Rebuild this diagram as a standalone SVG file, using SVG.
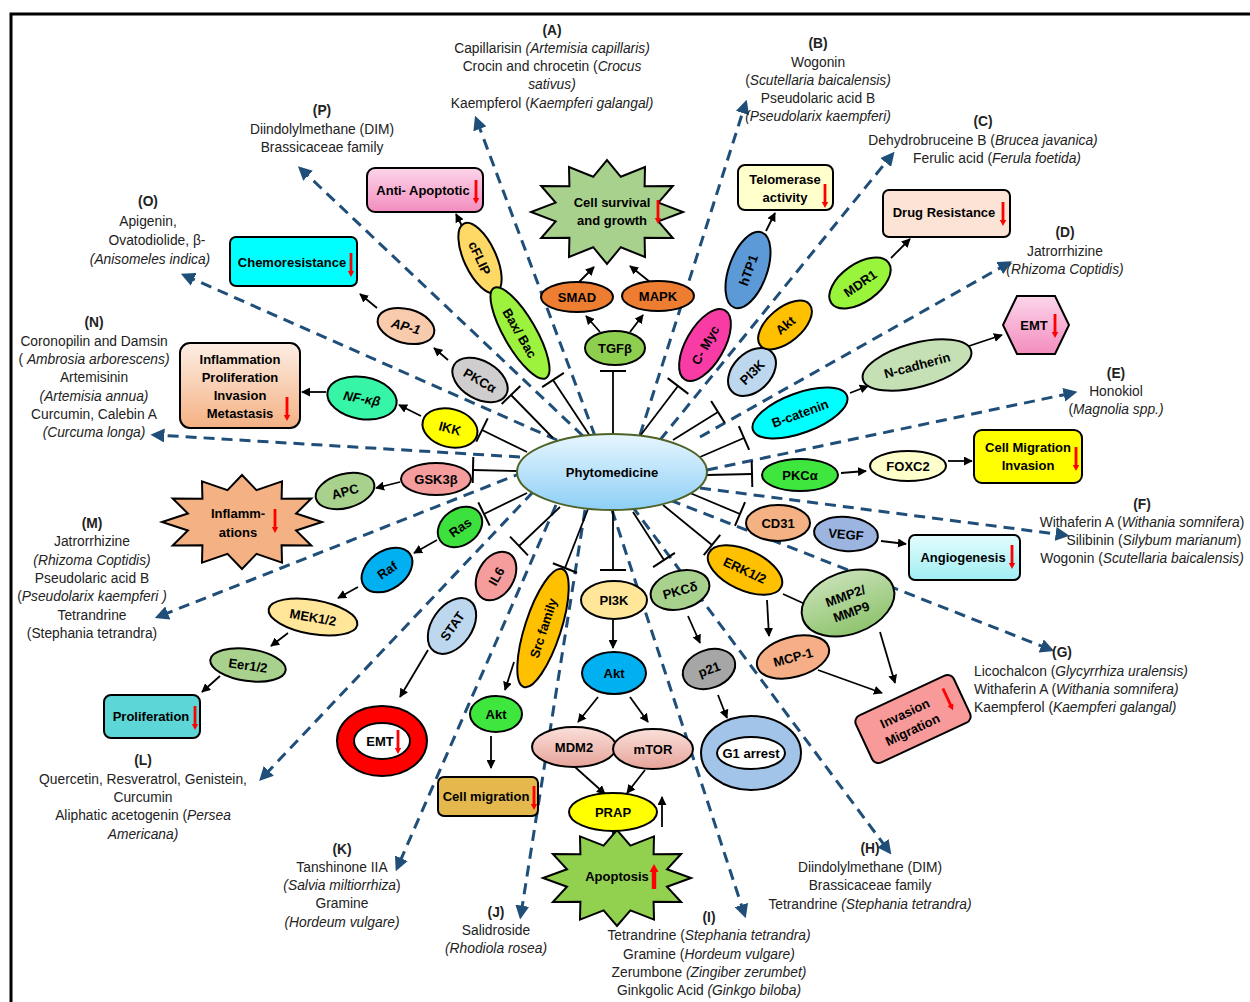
<svg xmlns="http://www.w3.org/2000/svg" width="1250" height="1002" viewBox="0 0 1250 1002">
<style>
text{font-family:"Liberation Sans",Arial,sans-serif;}
.lbl{font-size:13.8px;fill:#222;text-anchor:middle;}
.i{font-style:italic;}
.b{font-weight:bold;}
.n{font-size:13px;font-weight:bold;fill:#000;text-anchor:middle;}
.nd{stroke:#000;stroke-width:2;}
.ar{stroke:#000;stroke-width:1.8;fill:none;marker-end:url(#ah);}
.tb{stroke:#000;stroke-width:1.8;fill:none;marker-end:url(#tb);}
.ln{stroke:#000;stroke-width:1.8;fill:none;}
.ds{stroke:#1f4e79;stroke-width:3;stroke-dasharray:11,7;fill:none;marker-end:url(#dh);}
</style>
<defs>
<marker id="ah" viewBox="0 0 10 10" refX="9" refY="5" markerWidth="9" markerHeight="9" markerUnits="userSpaceOnUse" orient="auto"><path d="M0,0 L10,5 L0,10 Z" fill="#000"/></marker>
<marker id="tb" viewBox="0 0 4 28" refX="2" refY="14" markerWidth="4" markerHeight="28" markerUnits="userSpaceOnUse" orient="auto"><path d="M2,1 V27" stroke="#000" stroke-width="2"/></marker>
<marker id="dh" viewBox="0 0 10 10" refX="6" refY="5" markerWidth="14" markerHeight="14" markerUnits="userSpaceOnUse" orient="auto"><path d="M0,0 L10,5 L0,10 Z" fill="#1f4e79"/></marker>
<g id="rdn"><rect x="-1.4" y="0" width="2.8" height="20" fill="#ff0000"/><path d="M-3.2,18 L3.2,18 L0,24 Z" fill="#ff0000"/></g>
<linearGradient id="gPink" x1="0" y1="0" x2="0" y2="1"><stop offset="0" stop-color="#fcd5ea"/><stop offset="1" stop-color="#f38dbf"/></linearGradient>
<linearGradient id="gPeach" x1="0" y1="0" x2="0" y2="1"><stop offset="0" stop-color="#fdeee4"/><stop offset="1" stop-color="#f4b183"/></linearGradient>
<linearGradient id="gPhyto" x1="0" y1="0" x2="0" y2="1"><stop offset="0" stop-color="#e8f6fe"/><stop offset="1" stop-color="#8dcff6"/></linearGradient>
<linearGradient id="gAngio" x1="0" y1="0" x2="0" y2="1"><stop offset="0" stop-color="#e4fdfd"/><stop offset="1" stop-color="#9feef3"/></linearGradient>
<linearGradient id="gMdm" x1="0" y1="0" x2="0" y2="1"><stop offset="0" stop-color="#fae0da"/><stop offset="1" stop-color="#e6a49a"/></linearGradient>
<linearGradient id="gMmp" x1="0" y1="0" x2="0" y2="1"><stop offset="0" stop-color="#c6e0b4"/><stop offset="1" stop-color="#8fc46e"/></linearGradient>
</defs>
<rect width="1250" height="1002" fill="#fff"/>
<path d="M11,1002 V14 H1250" fill="none" stroke="#000" stroke-width="3"/>

<g id="connectors">
<line class="ds" x1="595" y1="436" x2="477" y2="121"/>
<line class="ds" x1="640" y1="435" x2="745" y2="105"/>
<line class="ds" x1="660" y1="440" x2="891" y2="156"/>
<line class="ds" x1="700" y1="437" x2="1007" y2="264"/>
<line class="ds" x1="707" y1="470" x2="1072" y2="393"/>
<line class="ds" x1="700" y1="488" x2="1064" y2="535"/>
<line class="ds" x1="670" y1="500" x2="1049" y2="649"/>
<line class="ds" x1="632" y1="506" x2="888" y2="850"/>
<line class="ds" x1="612" y1="510" x2="744" y2="913"/>
<line class="ds" x1="585" y1="510" x2="521" y2="914"/>
<line class="ds" x1="556" y1="505" x2="398" y2="866"/>
<line class="ds" x1="533" y1="492" x2="263" y2="777"/>
<line class="ds" x1="524" y1="472" x2="160" y2="616"/>
<line class="ds" x1="520" y1="457" x2="156" y2="435"/>
<line class="ds" x1="557" y1="440" x2="186" y2="276"/>
<line class="ds" x1="583" y1="436" x2="302" y2="170"/>
<line class="tb" x1="590" y1="436" x2="553" y2="380"/>
<line class="tb" x1="553" y1="438" x2="511" y2="395"/>
<line class="tb" x1="527" y1="452" x2="482" y2="430"/>
<line class="tb" x1="517" y1="471" x2="473" y2="470"/>
<line class="tb" x1="527" y1="493" x2="484" y2="514"/>
<line class="tb" x1="560" y1="507" x2="519" y2="546"/>
<line class="tb" x1="588" y1="509" x2="565" y2="568"/>
<line class="tb" x1="613" y1="510" x2="613" y2="570"/>
<line class="tb" x1="633" y1="512" x2="664" y2="560"/>
<line class="tb" x1="663" y1="505" x2="712" y2="545"/>
<line class="tb" x1="690" y1="493" x2="740" y2="514"/>
<line class="tb" x1="707" y1="475" x2="752" y2="474"/>
<line class="tb" x1="700" y1="457" x2="744" y2="438"/>
<line class="tb" x1="673" y1="440" x2="718" y2="412"/>
<line class="tb" x1="640" y1="436" x2="678" y2="386"/>
<line class="tb" x1="613" y1="434" x2="613" y2="371"/>
<line class="ar" x1="465" y1="232" x2="456" y2="214"/>
<line class="ar" x1="377" y1="308" x2="360" y2="294"/>
<line class="ar" x1="448" y1="360" x2="434" y2="348"/>
<line class="ar" x1="421" y1="416" x2="399" y2="405"/>
<line class="ar" x1="326" y1="392" x2="302" y2="392"/>
<line class="ar" x1="400" y1="482" x2="376" y2="488"/>
<line class="ar" x1="437" y1="540" x2="414" y2="553"/>
<line class="ar" x1="358" y1="587" x2="338" y2="598"/>
<line class="ar" x1="288" y1="633" x2="271" y2="646"/>
<line class="ar" x1="220" y1="676" x2="202" y2="692"/>
<line class="ar" x1="428" y1="650" x2="400" y2="697"/>
<line class="ar" x1="514" y1="662" x2="505" y2="690"/>
<line class="ar" x1="491" y1="736" x2="491" y2="768"/>
<line class="ar" x1="613" y1="620" x2="613" y2="648"/>
<line class="ar" x1="598" y1="697" x2="578" y2="722"/>
<line class="ar" x1="630" y1="697" x2="648" y2="722"/>
<line class="ar" x1="575" y1="767" x2="605" y2="794"/>
<line class="ar" x1="645" y1="770" x2="627" y2="793"/>
<line class="ar" x1="613" y1="831" x2="613" y2="850"/>
<line class="ar" x1="662" y1="827" x2="662" y2="797"/>
<line class="ar" x1="688" y1="616" x2="700" y2="643"/>
<line class="ar" x1="718" y1="695" x2="727" y2="718"/>
<line class="ar" x1="767" y1="600" x2="769" y2="636"/>
<line class="ln" x1="783" y1="594" x2="805" y2="604"/>
<line class="ar" x1="818" y1="670" x2="882" y2="693"/>
<line class="ar" x1="880" y1="632" x2="895" y2="683"/>
<line class="ar" x1="881" y1="541" x2="906" y2="544"/>
<line class="ar" x1="841" y1="473" x2="866" y2="471"/>
<line class="ar" x1="948" y1="461" x2="972" y2="461"/>
<line class="ar" x1="850" y1="393" x2="868" y2="386"/>
<line class="ar" x1="969" y1="346" x2="1002" y2="335"/>
<line class="ar" x1="891" y1="258" x2="910" y2="239"/>
<line class="ar" x1="766" y1="231" x2="775" y2="213"/>
<line class="ar" x1="600" y1="332" x2="586" y2="316"/>
<line class="ar" x1="630" y1="332" x2="643" y2="315"/>
<line class="ar" x1="579" y1="282" x2="594" y2="267"/>
<line class="ar" x1="650" y1="282" x2="630" y2="266"/>
</g>

<g id="phytomedicine"><ellipse cx="612" cy="472" rx="95" ry="38" fill="url(#gPhyto)" stroke="#4f6228" stroke-width="2"/><text class="n" x="612" y="477">Phytomedicine</text></g>

<g id="anti-apoptotic"><rect x="367" y="168" width="116" height="44" rx="8" fill="url(#gPink)" class="nd"/><text class="n" x="423" y="195">Anti- Apoptotic</text><use href="#rdn" x="476" y="180"/></g>
<g id="chemoresistance"><rect x="230" y="237" width="127" height="49" rx="6" fill="#00ffff" class="nd"/><text class="n" x="292" y="267">Chemoresistance</text><use href="#rdn" x="351" y="253"/></g>
<g id="inflammation-box"><rect x="180" y="343" width="120" height="85" rx="10" fill="url(#gPeach)" class="nd"/><text class="n" x="240" y="364">Inflammation</text><text class="n" x="240" y="382">Proliferation</text><text class="n" x="240" y="400">Invasion</text><text class="n" x="240" y="418">Metastasis</text><use href="#rdn" x="287" y="397"/></g>
<g id="proliferation"><rect x="104" y="695" width="96" height="43" rx="7" fill="#5cd6d6" class="nd"/><text class="n" x="151" y="721">Proliferation</text><use href="#rdn" x="195" y="706"/></g>
<g id="cell-migration"><rect x="438" y="777" width="100" height="39" rx="6" fill="#e4b84c" class="nd"/><text class="n" x="486" y="801">Cell migration</text><use href="#rdn" x="534" y="786"/></g>
<g id="angiogenesis"><rect x="909" y="535" width="111" height="45" rx="6" fill="url(#gAngio)" class="nd"/><text class="n" x="963" y="562">Angiogenesis</text><use href="#rdn" x="1012" y="545"/></g>
<g id="cell-migration-invasion"><rect x="974" y="430" width="108" height="53" rx="8" fill="#ffff00" class="nd"/><text class="n" x="1028" y="452">Cell Migration</text><text class="n" x="1028" y="470">Invasion</text><use href="#rdn" x="1076" y="447"/></g>
<g id="drug-resistance"><rect x="883" y="190" width="127" height="47" rx="6" fill="#fbe4d6" class="nd"/><text class="n" x="944" y="217">Drug Resistance</text><use href="#rdn" x="1003" y="202"/></g>
<g id="telomerase"><rect x="738" y="165" width="95" height="45" rx="7" fill="#ffffcc" class="nd"/><text class="n" x="785" y="184">Telomerase</text><text class="n" x="785" y="202">activity</text><use href="#rdn" x="825" y="184"/></g>
<g id="invasion-migration" transform="rotate(-25 913 719)"><rect x="859" y="693" width="108" height="52" rx="7" fill="#f99a9a" class="nd"/><text class="n" x="908" y="715">Invasion</text><text class="n" x="908" y="733">Migration</text><use href="#rdn" x="953" y="704"/></g>
<g id="emt-hex"><path d="M1003,325 L1017,296 L1055,296 L1069,325 L1055,354 L1017,354 Z" fill="url(#gPink)" class="nd"/><text class="n" x="1034" y="330">EMT</text><use href="#rdn" x="1055" y="314"/></g>

<g id="cell-survival"><path d="M683,212 L658.4,221.4 L672.8,238 L644.6,237.7 L645,257 L620.8,247.2 L607,264 L593.2,247.2 L569,257 L569.4,237.7 L541.2,238 L555.6,221.4 L531,212 L555.6,202.6 L541.2,186 L569.4,186.3 L569,167 L593.2,176.8 L607,160 L620.8,176.8 L645,167 L644.6,186.3 L672.8,186 L658.4,202.6 Z" fill="#a9d18e" class="nd"/><text class="n" x="612" y="207">Cell survival</text><text class="n" x="612" y="225">and growth</text><use href="#rdn" x="658" y="200"/></g>
<g id="inflammations"><path d="M322,522 L296.1,530.5 L311.3,545.5 L281.6,545.3 L282,562.7 L256.5,553.8 L242,569 L227.5,553.8 L202,562.7 L202.4,545.3 L172.7,545.5 L187.9,530.5 L162,522 L187.9,513.5 L172.7,498.5 L202.4,498.7 L202,481.3 L227.5,490.2 L242,475 L256.5,490.2 L282,481.3 L281.6,498.7 L311.3,498.5 L296.1,513.5 Z" fill="#f4b183" class="nd"/><text class="n" x="238" y="518">Inflamm-</text><text class="n" x="238" y="537">ations</text><use href="#rdn" x="275" y="509"/></g>
<g id="apoptosis"><path d="M691,878 L667,886.7 L681.1,902 L653.6,901.8 L654,919.6 L630.4,910.4 L617,926 L603.6,910.4 L580,919.6 L580.4,901.8 L552.9,902 L567,886.7 L543,878 L567,869.3 L552.9,854 L580.4,854.2 L580,836.4 L603.6,845.6 L617,830 L630.4,845.6 L654,836.4 L653.6,854.2 L681.1,854 L667,869.3 Z" fill="#92d050" class="nd"/><text class="n" x="617" y="881">Apoptosis</text><g transform="translate(654 889) rotate(180)"><rect x="-2.2" y="0" width="4.4" height="20" fill="#ff0000"/><path d="M-4.5,17 L4.5,17 L0,25 Z" fill="#ff0000"/></g></g>

<g id="emt-ring"><ellipse cx="382" cy="741" rx="45" ry="35" fill="#ff0000" class="nd"/><ellipse cx="382" cy="741" rx="28" ry="18" fill="#fff" class="nd"/><text class="n" x="380" y="746">EMT</text><use href="#rdn" x="398" y="730"/></g>
<g id="g1-arrest"><ellipse cx="751" cy="753" rx="50" ry="37" fill="#a2c4e8" class="nd"/><ellipse cx="751" cy="753" rx="34" ry="16" fill="#fff" class="nd"/><text class="n" x="751" y="758">G1 arrest</text></g>

<g id="cflip" transform="rotate(65 480 258)"><ellipse cx="480" cy="258" rx="38" ry="16" fill="#ffd966" class="nd"/><text class="n" x="480" y="263">cFLIP</text></g>
<g id="bax-bac" transform="rotate(60 520 333)"><ellipse cx="520" cy="333" rx="52" ry="16" fill="#9cf23c" class="nd"/><text class="n" x="520" y="338">Bax/ Bac</text></g>
<g id="ap1" transform="rotate(15 406 326)"><ellipse cx="406" cy="326" rx="29" ry="17" fill="#f8cbad" class="nd"/><text class="n i" x="406" y="331">AP-1</text></g>
<g id="pkca-gray" transform="rotate(30 480 380)"><ellipse cx="480" cy="380" rx="30" ry="19" fill="#cfcdcd" class="nd"/><text class="n" x="480" y="385">PKCα</text></g>
<g id="ikk" transform="rotate(15 450 428)"><ellipse cx="450" cy="428" rx="28" ry="19" fill="#ffff00" class="nd"/><text class="n" x="450" y="433">IKK</text></g>
<g id="nfkb" transform="rotate(10 362 398)"><ellipse cx="362" cy="398" rx="35" ry="21" fill="#36f5a6" class="nd"/><text class="n i" x="362" y="403">NF-κβ</text></g>
<g id="gsk3b"><ellipse cx="436" cy="479" rx="35" ry="16" fill="#f59c9c" class="nd"/><text class="n" x="436" y="484">GSK3β</text></g>
<g id="apc" transform="rotate(-15 345 491)"><ellipse cx="345" cy="491" rx="30" ry="17" fill="#a9d18e" class="nd"/><text class="n" x="345" y="496">APC</text></g>
<g id="ras" transform="rotate(-35 460 527)"><ellipse cx="460" cy="527" rx="24" ry="18" fill="#3de13d" class="nd"/><text class="n" x="460" y="532">Ras</text></g>
<g id="raf" transform="rotate(-35 387 570)"><ellipse cx="387" cy="570" rx="28" ry="19" fill="#00b0f0" class="nd"/><text class="n" x="387" y="575">Raf</text></g>
<g id="mek" transform="rotate(10 313 617)"><ellipse cx="313" cy="617" rx="45" ry="17" fill="#ffe699" class="nd"/><text class="n" x="313" y="622">MEK1/2</text></g>
<g id="eer" transform="rotate(8 248 665)"><ellipse cx="248" cy="665" rx="38" ry="16" fill="#a9d18e" class="nd"/><text class="n" x="248" y="670">Eer1/2</text></g>
<g id="il6" transform="rotate(-60 496 576)"><ellipse cx="496" cy="576" rx="26" ry="18" fill="#f59c9c" class="nd"/><text class="n" x="496" y="581">IL6</text></g>
<g id="stat" transform="rotate(-55 452 626)"><ellipse cx="452" cy="626" rx="31" ry="20" fill="#bdd7ee" class="nd"/><text class="n" x="452" y="631">STAT</text></g>
<g id="src" transform="rotate(-72 543 628)"><ellipse cx="543" cy="628" rx="62" ry="18" fill="#ffc000" class="nd"/><text class="n" x="543" y="633">Src family</text></g>
<g id="akt-green"><ellipse cx="496" cy="714" rx="26" ry="18" fill="#3ee63e" class="nd"/><text class="n" x="496" y="719">Akt</text></g>
<g id="pi3k-bottom"><ellipse cx="614" cy="600" rx="33" ry="19" fill="#ffe699" class="nd"/><text class="n" x="614" y="605">PI3K</text></g>
<g id="akt-blue"><ellipse cx="614" cy="673" rx="32" ry="21" fill="#00b0f0" class="nd"/><text class="n" x="614" y="678">Akt</text></g>
<g id="mdm2"><ellipse cx="574" cy="747" rx="42" ry="20" fill="url(#gMdm)" class="nd"/><text class="n" x="574" y="752">MDM2</text></g>
<g id="mtor"><ellipse cx="653" cy="749" rx="40" ry="20" fill="url(#gMdm)" class="nd"/><text class="n" x="653" y="754">mTOR</text></g>
<g id="prap"><ellipse cx="613" cy="812" rx="44" ry="19" fill="#ffff00" class="nd"/><text class="n" x="613" y="817">PRAP</text></g>
<g id="pkcd" transform="rotate(-15 680 590)"><ellipse cx="680" cy="590" rx="30" ry="19" fill="#a9d18e" class="nd"/><text class="n" x="680" y="595">PKCδ</text></g>
<g id="p21" transform="rotate(-20 709 669)"><ellipse cx="709" cy="669" rx="27" ry="19" fill="#a6a6a6" class="nd"/><text class="n" x="709" y="674">p21</text></g>
<g id="erk" transform="rotate(25 745 570)"><ellipse cx="745" cy="570" rx="40" ry="20" fill="#ffc000" class="nd"/><text class="n" x="745" y="575">ERK1/2</text></g>
<g id="mmp" transform="rotate(-20 848 603)"><ellipse cx="848" cy="603" rx="48" ry="31" fill="url(#gMmp)" class="nd"/><text class="n" x="848" y="600">MMP2/</text><text class="n" x="848" y="617">MMP9</text></g>
<g id="mcp1" transform="rotate(-15 793 657)"><ellipse cx="793" cy="657" rx="37" ry="20" fill="#f5ae85" class="nd"/><text class="n" x="793" y="662">MCP-1</text></g>
<g id="cd31"><ellipse cx="778" cy="523" rx="32" ry="18" fill="#f4b183" class="nd"/><text class="n" x="778" y="528">CD31</text></g>
<g id="vegf" transform="rotate(5 846 534)"><ellipse cx="846" cy="534" rx="32" ry="17" fill="#9bb4e0" class="nd"/><text class="n" x="846" y="539">VEGF</text></g>
<g id="pkca-green"><ellipse cx="800" cy="475" rx="38" ry="16" fill="#3ee63e" class="nd"/><text class="n" x="800" y="480">PKCα</text></g>
<g id="foxc2"><ellipse cx="908" cy="466" rx="38" ry="15" fill="#ffffcc" class="nd"/><text class="n" x="908" y="471">FOXC2</text></g>
<g id="b-catenin" transform="rotate(-20 800 413)"><ellipse cx="800" cy="413" rx="50" ry="20" fill="#00ffff" class="nd"/><text class="n" x="800" y="418">B-catenin</text></g>
<g id="n-cadherin" transform="rotate(-15 917 365)"><ellipse cx="917" cy="365" rx="56" ry="22" fill="#c5e0b4" class="nd"/><text class="n" x="917" y="370">N-cadherin</text></g>
<g id="pi3k-top" transform="rotate(-45 752 372)"><ellipse cx="752" cy="372" rx="28" ry="19" fill="#bdd7ee" class="nd"/><text class="n" x="752" y="377">PI3K</text></g>
<g id="akt-orange" transform="rotate(-40 785 325)"><ellipse cx="785" cy="325" rx="32" ry="17" fill="#ffc000" class="nd"/><text class="n" x="785" y="330">Akt</text></g>
<g id="mdr1" transform="rotate(-35 860 283)"><ellipse cx="860" cy="283" rx="35" ry="19" fill="#99f53c" class="nd"/><text class="n" x="860" y="288">MDR1</text></g>
<g id="cmyc" transform="rotate(-60 705 345)"><ellipse cx="705" cy="345" rx="40" ry="19" fill="#f93ca5" class="nd"/><text class="n" x="705" y="350">C- Myc</text></g>
<g id="htp1" transform="rotate(-70 748 270)"><ellipse cx="748" cy="270" rx="40" ry="19" fill="#5b9ad6" class="nd"/><text class="n" x="748" y="275">hTP1</text></g>
<g id="tgfb"><ellipse cx="615" cy="348" rx="30" ry="17" fill="#8fcf4f" class="nd"/><text class="n" x="615" y="353">TGFβ</text></g>
<g id="smad"><ellipse cx="577" cy="297" rx="36" ry="15" fill="#ed7d31" class="nd"/><text class="n" x="577" y="302">SMAD</text></g>
<g id="mapk"><ellipse cx="658" cy="296" rx="36" ry="15" fill="#ed7d31" class="nd"/><text class="n" x="658" y="301">MAPK</text></g>

<g id="label-A"><text class="lbl b" x="552" y="35">(A)</text><text class="lbl" x="552" y="53">Capillarisin <tspan class="i">(Artemisia capillaris)</tspan></text><text class="lbl" x="552" y="71">Crocin and chrocetin (<tspan class="i">Crocus</tspan></text><text class="lbl i" x="552" y="89">sativus)</text><text class="lbl" x="552" y="108">Kaempferol (<tspan class="i">Kaempferi galangal)</tspan></text></g>
<g id="label-B"><text class="lbl b" x="818" y="48">(B)</text><text class="lbl" x="818" y="67">Wogonin</text><text class="lbl" x="818" y="85">(<tspan class="i">Scutellaria baicalensis)</tspan></text><text class="lbl" x="818" y="103">Pseudolaric acid B</text><text class="lbl i" x="818" y="121">(Pseudolarix kaempferi)</text></g>
<g id="label-C"><text class="lbl b" x="983" y="126">(C)</text><text class="lbl" x="983" y="145">Dehydrobruceine B (<tspan class="i">Brucea javanica)</tspan></text><text class="lbl" x="997" y="163">Ferulic acid  (<tspan class="i">Ferula foetida)</tspan></text></g>
<g id="label-D"><text class="lbl b" x="1065" y="237">(D)</text><text class="lbl" x="1065" y="256">Jatrorrhizine</text><text class="lbl i" x="1065" y="274">(Rhizoma Coptidis)</text></g>
<g id="label-E"><text class="lbl b" x="1116" y="378">(E)</text><text class="lbl" x="1116" y="396">Honokiol</text><text class="lbl" x="1116" y="414">(<tspan class="i">Magnolia spp.)</tspan></text></g>
<g id="label-F"><text class="lbl b" x="1142" y="509">(F)</text><text class="lbl" x="1142" y="527">Withaferin A  (<tspan class="i">Withania somnifera</tspan>)</text><text class="lbl" x="1154" y="545">Silibinin (<tspan class="i">Silybum marianum</tspan>)</text><text class="lbl" x="1142" y="563">Wogonin (<tspan class="i">Scutellaria baicalensis)</tspan></text></g>
<g id="label-G"><text class="lbl b" x="1062" y="657">(G)</text><text class="lbl" x="974" y="676" style="text-anchor:start">Licochalcon (<tspan class="i">Glycyrrhiza uralensis)</tspan></text><text class="lbl" x="974" y="694" style="text-anchor:start">Withaferin A (<tspan class="i">Withania somnifera)</tspan></text><text class="lbl" x="974" y="712" style="text-anchor:start">Kaempferol (<tspan class="i">Kaempferi galangal)</tspan></text></g>
<g id="label-H"><text class="lbl b" x="870" y="853">(H)</text><text class="lbl" x="870" y="872">Diindolylmethane (DIM)</text><text class="lbl" x="870" y="890">Brassicaceae family</text><text class="lbl" x="870" y="909">Tetrandrine <tspan class="i">(Stephania tetrandra)</tspan></text></g>
<g id="label-I"><text class="lbl b" x="709" y="922">(I)</text><text class="lbl" x="709" y="940">Tetrandrine (<tspan class="i">Stephania tetrandra)</tspan></text><text class="lbl" x="709" y="959">Gramine (<tspan class="i">Hordeum vulgare)</tspan></text><text class="lbl" x="709" y="977">Zerumbone <tspan class="i">(Zingiber zerumbet)</tspan></text><text class="lbl" x="709" y="995">Ginkgolic Acid <tspan class="i">(Ginkgo biloba)</tspan></text></g>
<g id="label-J"><text class="lbl b" x="496" y="917">(J)</text><text class="lbl" x="496" y="935">Salidroside</text><text class="lbl i" x="496" y="953">(Rhodiola rosea)</text></g>
<g id="label-K"><text class="lbl b" x="342" y="854">(K)</text><text class="lbl" x="342" y="872">Tanshinone IIA</text><text class="lbl" x="342" y="890"><tspan class="i">(Salvia miltiorrhiza</tspan>)</text><text class="lbl" x="342" y="908">Gramine</text><text class="lbl i" x="342" y="927">(Hordeum vulgare)</text></g>
<g id="label-L"><text class="lbl b" x="143" y="765">(L)</text><text class="lbl" x="143" y="784">Quercetin, Resveratrol, Genistein,</text><text class="lbl" x="143" y="802">Curcumin</text><text class="lbl" x="143" y="820">Aliphatic acetogenin (<tspan class="i">Persea</tspan></text><text class="lbl i" x="143" y="839">Americana)</text></g>
<g id="label-M"><text class="lbl b" x="92" y="528">(M)</text><text class="lbl" x="92" y="546">Jatrorrhizine</text><text class="lbl i" x="92" y="565">(Rhizoma Coptidis)</text><text class="lbl" x="92" y="583">Pseudolaric acid B</text><text class="lbl" x="92" y="601">(<tspan class="i">Pseudolarix kaempferi )</tspan></text><text class="lbl" x="92" y="620">Tetrandrine</text><text class="lbl" x="92" y="638">(Stephania tetrandra)</text></g>
<g id="label-N"><text class="lbl b" x="94" y="327">(N)</text><text class="lbl" x="94" y="346">Coronopilin and Damsin</text><text class="lbl" x="94" y="364">( <tspan class="i">Ambrosia arborescens)</tspan></text><text class="lbl" x="94" y="382">Artemisinin</text><text class="lbl i" x="94" y="401">(Artemisia annua)</text><text class="lbl" x="94" y="419">Curcumin, Calebin A</text><text class="lbl i" x="94" y="437">(Curcuma longa)</text></g>
<g id="label-O"><text class="lbl b" x="148" y="206">(O)</text><text class="lbl" x="148" y="226">Apigenin,</text><text class="lbl" x="157" y="245">Ovatodiolide, β-</text><text class="lbl i" x="150" y="264">(Anisomeles indica)</text></g>
<g id="label-P"><text class="lbl b" x="322" y="115">(P)</text><text class="lbl" x="322" y="134">Diindolylmethane (DIM)</text><text class="lbl" x="322" y="152">Brassicaceae family</text></g>
</svg>
